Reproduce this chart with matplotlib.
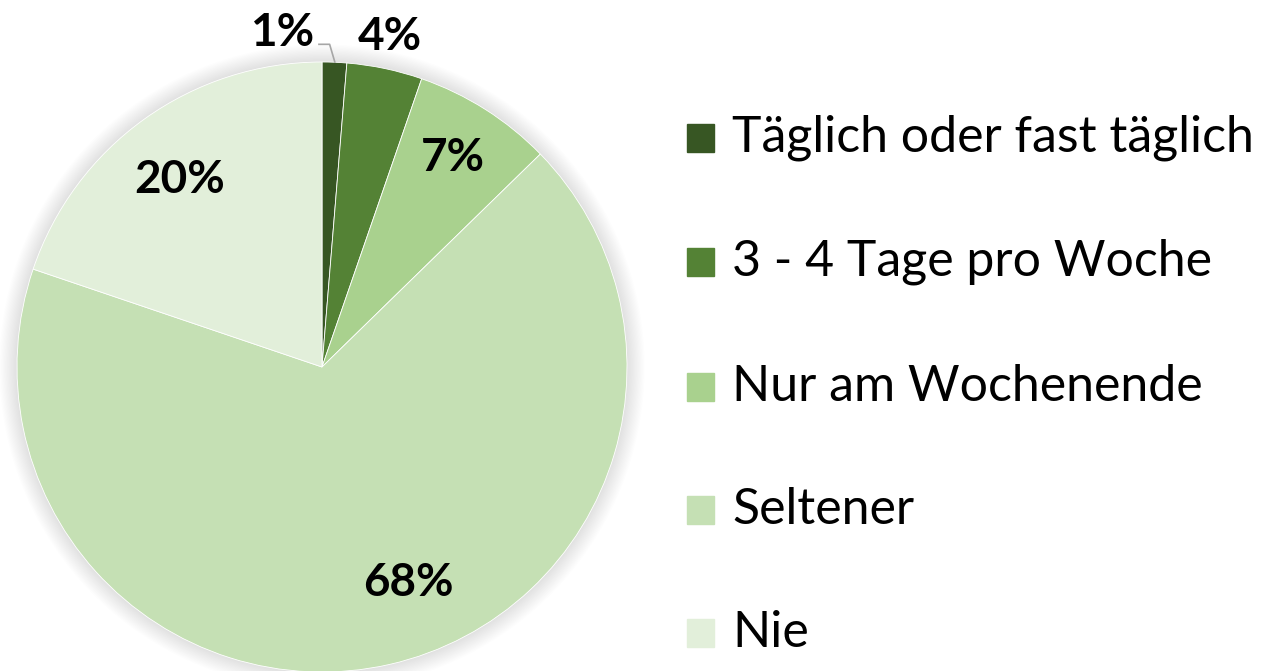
import matplotlib.pyplot as plt
from matplotlib.patches import Circle
import numpy as np

# Anteile (in %), im Uhrzeigersinn ab 12 Uhr
kategorien = ["Täglich oder fast täglich", "3 - 4 Tage pro Woche",
              "Nur am Wochenende", "Seltener", "Nie"]
werte = [1.3, 4.0, 7.4, 67.5, 19.8]
farben = ["#375623", "#548235", "#A9D18E", "#C5E0B4", "#E2EFDA"]

# Position der Prozentbeschriftung (x, y in Radien)
label_pos = [(-0.13, 1.095), (0.223, 1.082), (0.43, 0.685), (0.282, -0.708), (-0.466, 0.613)]

plt.rcParams['font.family'] = ['Lato', 'DejaVu Sans']

fig = plt.figure(figsize=(12.66, 6.71), dpi=100)
ax = fig.add_axes([17/1266, -1/671, 610/1266, 610/671])

# weicher Schatten hinter dem Kreis
for r in np.linspace(1.058, 1.0, 16):
    ax.add_patch(Circle((0.0, 0.0), r, color='black', alpha=0.0075, lw=0,
                        zorder=0, clip_on=False))

wedges, _ = ax.pie(werte, colors=farben, startangle=90, counterclock=False,
                   radius=1, wedgeprops=dict(linewidth=0.6, edgecolor='white'))
for w in wedges:
    w.set_zorder(2)
ax.set_xlim(-1, 1)
ax.set_ylim(-1, 1)
ax.set_aspect('equal')
ax.axis('off')

for v, (x, y) in zip(werte, label_pos):
    ax.text(x, y, "%.0f%%" % v, ha='center', va='center', fontsize=33,
            fontweight='bold', color='black', zorder=3, clip_on=False)

# Führungslinie für 1%
ax.plot([-0.01, 0.025, 0.042], [1.058, 1.058, 1.0], color='#a6a6a6', lw=1.2,
        zorder=3, clip_on=False)

# Legende
ys = [138, 262, 387, 510, 633]
for k, f, yy in zip(kategorien, farben, ys):
    yf = 1 - yy / 671
    fig.patches.append(plt.Rectangle((687/1266, yf - 14/671), 27/1266, 28/671,
                                     transform=fig.transFigure, color=f, figure=fig))
    fig.text(732/1266, yf, k, ha='left', va='center', fontsize=36, color='black')

fig.savefig("out.png", dpi=100)
